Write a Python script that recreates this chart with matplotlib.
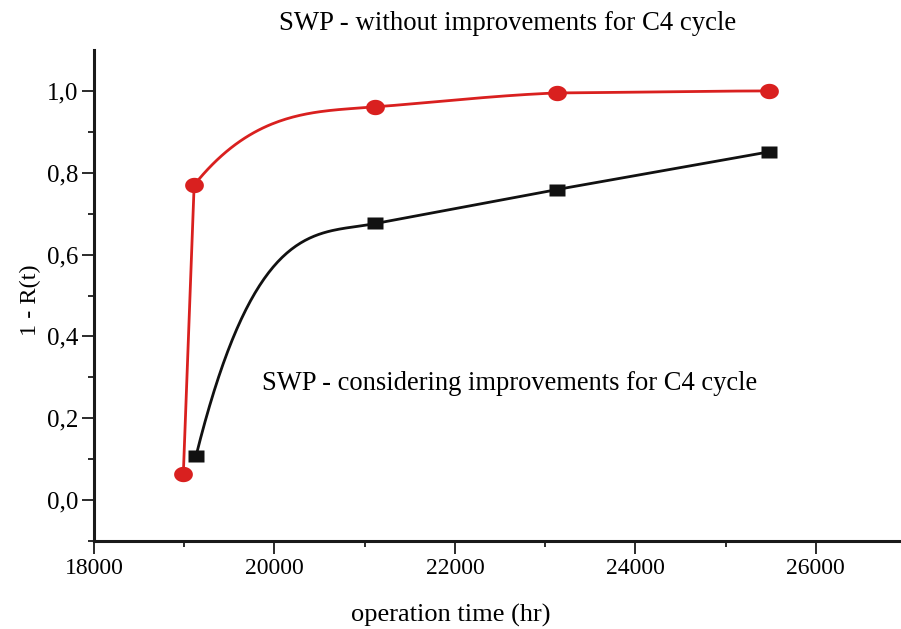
import numpy as np
import matplotlib
matplotlib.use("Agg")
import matplotlib.pyplot as plt
from matplotlib.path import Path

# ---- data ----
red_x = [18990, 19110, 21120, 23130, 25480]
red_y = [0.063, 0.770, 0.961, 0.995, 1.000]
black_x = [19130, 21120, 23130, 25480]
black_y = [0.107, 0.676, 0.759, 0.851]

title_text = "SWP - without improvements for C4 cycle"
note_text = "SWP - considering improvements for C4 cycle"
x_ticks = [18000, 20000, 22000, 24000, 26000]
y_ticks = [0.0, 0.2, 0.4, 0.6, 0.8, 1.0]
y_tick_labels = ["0,0", "0,2", "0,4", "0,6", "0,8", "1,0"]

# tangent factors (start, end) per segment, relative to segment secant slope
red_tan = [(1.0, 1.0), (2.9, 0.18), (1.0, 0.5), (0.8, 0.2)]
black_tan = [(3.1, 0.15), (1.0, 1.0), (1.0, 1.0)]


def hermite_curve(xs, ys, tans, n=80):
    px, py = [], []
    for i in range(len(xs) - 1):
        x0, x1, y0, y1 = xs[i], xs[i + 1], ys[i], ys[i + 1]
        h = x1 - x0
        d = (y1 - y0) / h
        m0, m1 = tans[i][0] * d, tans[i][1] * d
        t = np.linspace(0, 1, n)
        h00 = 2 * t**3 - 3 * t**2 + 1
        h10 = t**3 - 2 * t**2 + t
        h01 = -2 * t**3 + 3 * t**2
        h11 = t**3 - t**2
        px.append(x0 + t * h)
        py.append(h00 * y0 + h10 * h * m0 + h01 * y1 + h11 * h * m1)
    return np.concatenate(px), np.concatenate(py)


th = np.linspace(0, 2 * np.pi, 60)
ellipse = Path(np.column_stack([1.0 * np.cos(th), 0.82 * np.sin(th)]), closed=True)
rect = Path([(-1, -0.8), (1, -0.8), (1, 0.8), (-1, 0.8), (-1, -0.8)], closed=True)

plt.rcParams["font.family"] = ["Liberation Serif", "DejaVu Serif"]

fig = plt.figure(figsize=(9.01, 6.29), dpi=100)
W, H = 901, 629
ax = fig.add_axes([94 / W, (H - 541) / H, (906 - 94) / W, (541 - 50) / H])

red = "#d9201f"
blk = "#111111"

cx, cy = hermite_curve(black_x, black_y, black_tan)
ax.plot(cx, cy, color=blk, lw=2.0, solid_capstyle="round", zorder=2)
ax.plot(black_x, black_y, ls="none", marker=rect, ms=11, color=blk, mec="none", zorder=3)

cx, cy = hermite_curve(red_x, red_y, red_tan)
ax.plot(cx, cy, color=red, lw=2.0, solid_capstyle="round", zorder=2)
ax.plot(red_x, red_y, ls="none", marker=ellipse, ms=13.5, color=red, mec="none", zorder=3)

ax.set_xlim(18000, 27000)
ax.set_ylim(-0.1, 1.1)
ax.spines["top"].set_visible(False)
ax.spines["right"].set_visible(False)
for s in ("left", "bottom"):
    ax.spines[s].set_linewidth(2.2)
    ax.spines[s].set_color("#1a1a1a")

ax.set_xticks(x_ticks)
ax.set_xticklabels([str(v) for v in x_ticks])
ax.set_xticks(np.arange(19000, 27001, 2000), minor=True)
ax.set_yticks(y_ticks)
ax.set_yticklabels(y_tick_labels)
ax.set_yticks(np.arange(-0.1, 1.05, 0.2), minor=True)
ax.tick_params(which="major", length=9, width=1.3, color="#1a1a1a", labelsize=17, pad=3)
ax.tick_params(axis="y", which="major", labelsize=18, pad=2)
ax.tick_params(which="minor", length=4.5, width=1.3, color="#1a1a1a")
ax.tick_params(axis="y", which="minor", length=4)

fig.text(508 / W, 1 - 24 / H, title_text, ha="center", va="center", fontsize=19.3)
fig.text(451 / W, 1 - 615 / H, "operation time (hr)", ha="center", va="center", fontsize=19)
fig.text(30 / W, 1 - 300 / H, "1 - R(t)", ha="center", va="center", rotation=90, fontsize=17.5)
ax.text(19860, 0.285, note_text, ha="left", va="center", fontsize=19.1)

fig.savefig("out.png", dpi=100)
